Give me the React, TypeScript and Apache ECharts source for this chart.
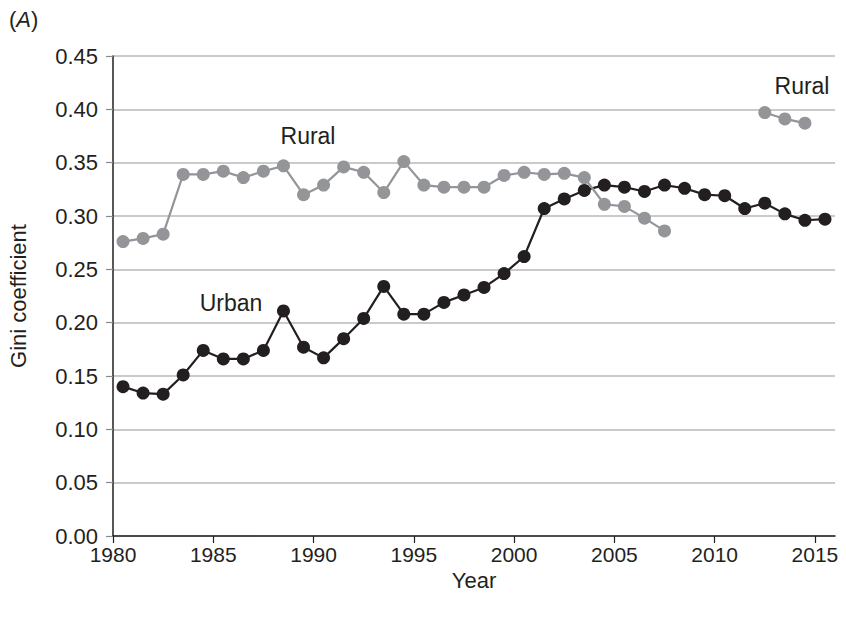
import React, { useEffect, useRef } from "react";
import * as echarts from "echarts";

const years: number[] = [
  1980, 1981, 1982, 1983, 1984, 1985, 1986, 1987, 1988, 1989,
  1990, 1991, 1992, 1993, 1994, 1995, 1996, 1997, 1998, 1999,
  2000, 2001, 2002, 2003, 2004, 2005, 2006, 2007, 2008, 2009,
  2010, 2011, 2012, 2013, 2014, 2015,
];

const urban: (number | null)[] = [
  0.140, 0.134, 0.133, 0.151, 0.174, 0.166, 0.166, 0.174, 0.211, 0.177,
  0.167, 0.185, 0.204, 0.234, 0.208, 0.208, 0.219, 0.226, 0.233, 0.246,
  0.262, 0.307, 0.316, 0.324, 0.329, 0.327, 0.323, 0.329, 0.326, 0.320,
  0.319, 0.307, 0.312, 0.302, 0.296, 0.297,
];

const rural: (number | null)[] = [
  0.276, 0.279, 0.283, 0.339, 0.339, 0.342, 0.336, 0.342, 0.347, 0.320,
  0.329, 0.346, 0.341, 0.322, 0.351, 0.329, 0.327, 0.327, 0.327, 0.338,
  0.341, 0.339, 0.340, 0.336, 0.311, 0.309, 0.298, 0.286, null, null,
  null, null, 0.397, 0.391, 0.387, null,
];

const xTicks: number[] = [1980, 1985, 1990, 1995, 2000, 2005, 2010, 2015];

const FONT = "'Liberation Sans', Arial, Helvetica, sans-serif";
const TEXT = "#231f20";

function toPoints(vals: (number | null)[]) {
  return years.map((y, i) => [y + 0.5, vals[i] == null ? "-" : vals[i]]);
}

export default function App() {
  const ref = useRef<HTMLDivElement>(null);
  useEffect(() => {
    if (!ref.current) return;
    const chart = echarts.init(ref.current, undefined, { renderer: "svg" });
    chart.setOption({
      animation: false,
      backgroundColor: "#ffffff",
      textStyle: { fontFamily: FONT },
      grid: { left: 113, right: 11, top: 56, bottom: 81, containLabel: false, outerBoundsMode: "none" },
      xAxis: {
        type: "value",
        min: 1980,
        max: 2016,
        interval: 5,
        name: "Year",
        nameLocation: "middle",
        nameGap: 26,
        nameTextStyle: { fontSize: 22, color: TEXT, fontFamily: FONT },
        axisLine: { show: true, lineStyle: { color: TEXT, width: 1.5 } },
        axisTick: {
          show: true,
          length: 7,
          lineStyle: { color: TEXT, width: 1.2 },
          customValues: xTicks,
        },
        axisLabel: {
          fontSize: 21,
          color: TEXT,
          fontFamily: FONT,
          margin: 8,
          customValues: xTicks,
          formatter: (v: number) => String(v),
        },
        splitLine: { show: false },
      },
      yAxis: {
        type: "value",
        min: 0,
        max: 0.45,
        interval: 0.05,
        name: "Gini coefficient",
        nameLocation: "middle",
        nameRotate: 90,
        nameGap: 84,
        nameTextStyle: { fontSize: 22, color: TEXT, fontFamily: FONT },
        axisLine: { show: true, lineStyle: { color: TEXT, width: 1.5 } },
        axisTick: { show: true, length: 7, lineStyle: { color: "#8a8a8a", width: 1.2 } },
        axisLabel: {
          fontSize: 22,
          color: TEXT,
          fontFamily: FONT,
          margin: 15,
          formatter: (v: number) => v.toFixed(2),
        },
        splitLine: { show: true, lineStyle: { color: "#b8b8b8", width: 1.5 } },
      },
      series: [
        {
          name: "Urban",
          type: "line",
          data: toPoints(urban),
          symbol: "circle",
          symbolSize: 13,
          showAllSymbol: true,
          connectNulls: false,
          itemStyle: { color: "#231f20" },
          lineStyle: { color: "#231f20", width: 2.2 },
          z: 2,
        },
        {
          name: "Rural",
          type: "line",
          data: toPoints(rural),
          symbol: "circle",
          symbolSize: 13,
          showAllSymbol: true,
          connectNulls: false,
          itemStyle: { color: "#939598" },
          lineStyle: { color: "#939598", width: 2.2 },
          z: 3,
        },
      ],
      graphic: [
        {
          type: "text",
          left: 9,
          top: 8,
          style: {
            text: "({i|A})",
            font: `22px ${FONT}`,
            fill: TEXT,
            rich: { i: { fontStyle: "italic", fontSize: 22, fontFamily: FONT, fill: TEXT } },
          },
        },
        {
          type: "text",
          x: 308,
          y: 136,
          style: { text: "Rural", font: `23px ${FONT}`, fill: TEXT, align: "center", verticalAlign: "middle" },
        },
        {
          type: "text",
          x: 231,
          y: 303,
          style: { text: "Urban", font: `23px ${FONT}`, fill: TEXT, align: "center", verticalAlign: "middle" },
        },
        {
          type: "text",
          x: 802,
          y: 86,
          style: { text: "Rural", font: `23px ${FONT}`, fill: TEXT, align: "center", verticalAlign: "middle" },
        },
      ],
    });
    return () => chart.dispose();
  }, []);
  return (
    <div
      ref={ref}
      style={{ position: "fixed", left: 0, top: 0, width: 846, height: 617, background: "#fff" }}
    />
  );
}
